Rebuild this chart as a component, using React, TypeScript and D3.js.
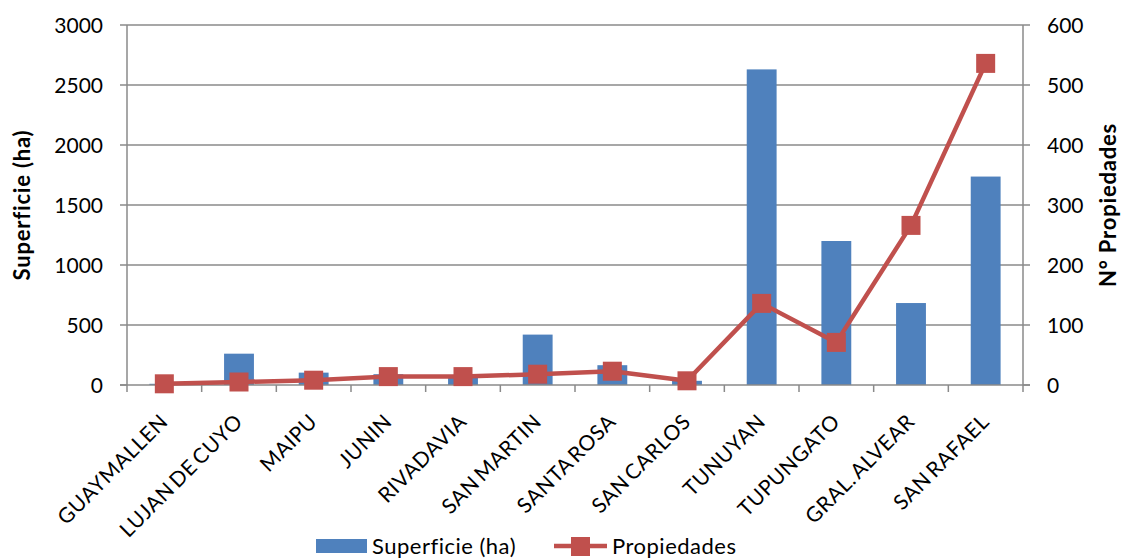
import React from "react";
import * as d3 from "d3";

// Departamentos de Mendoza
const categories: string[] = [
  "GUAYMALLEN",
  "LUJAN DE CUYO",
  "MAIPU",
  "JUNIN",
  "RIVADAVIA",
  "SAN MARTIN",
  "SANTA ROSA",
  "SAN CARLOS",
  "TUNUYAN",
  "TUPUNGATO",
  "GRAL. ALVEAR",
  "SAN RAFAEL",
];

// Superficie (ha) por departamento
const superficie: number[] = [10, 261, 103, 90, 70, 420, 165, 35, 2630, 1200, 683, 1737];

// Número de propiedades por departamento
const propiedades: number[] = [2, 5, 8, 14, 14, 18, 23, 7, 136, 71, 266, 536];

const leftTicks: number[] = [0, 500, 1000, 1500, 2000, 2500, 3000];
const rightTicks: number[] = [0, 100, 200, 300, 400, 500, 600];

const W = 1124;
const H = 560;
const plot = { left: 127, right: 1023, top: 25, bottom: 385 };

const BLUE = "#4F81BD";
const RED = "#C0504D";
const GRID = "#8A8A8A";
const FONT = "Lato, 'Open Sans', sans-serif";

export default function App() {
  const x = d3
    .scaleBand<string>()
    .domain(categories)
    .range([plot.left, plot.right])
    .padding(0);
  const bw = x.bandwidth();
  const barW = bw * 0.4;

  const yL = d3.scaleLinear().domain([0, 3000]).range([plot.bottom, plot.top]);
  const yR = d3.scaleLinear().domain([0, 600]).range([plot.bottom, plot.top]);

  const line = d3
    .line<number>()
    .x((_, i) => (x(categories[i]) as number) + bw / 2)
    .y((d) => yR(d));

  const boundaries = d3.range(categories.length + 1).map((i) => plot.left + i * bw);
  const marker = 19;

  return (
    <svg
      width={W}
      height={H}
      style={{ position: "absolute", left: 0, top: 0, background: "#fff" }}
      fontFamily={FONT}
    >
      {/* horizontal gridlines */}
      {leftTicks.slice(1).map((t) => (
        <line
          key={"g" + t}
          x1={plot.left}
          x2={plot.right}
          y1={yL(t)}
          y2={yL(t)}
          stroke={GRID}
          strokeWidth={1.5}
        />
      ))}

      {/* bars */}
      {superficie.map((v, i) => {
        const cx = (x(categories[i]) as number) + bw / 2;
        return (
          <rect
            key={"b" + i}
            x={cx - barW / 2}
            y={yL(v)}
            width={barW}
            height={plot.bottom - yL(v)}
            fill={BLUE}
          />
        );
      })}

      {/* axes */}
      <line x1={plot.left} x2={plot.left} y1={plot.top} y2={plot.bottom} stroke={GRID} strokeWidth={1.5} />
      <line x1={plot.right} x2={plot.right} y1={plot.top} y2={plot.bottom} stroke={GRID} strokeWidth={1.5} />
      <line x1={plot.left - 7} x2={plot.right + 7} y1={plot.bottom} y2={plot.bottom} stroke={GRID} strokeWidth={1.5} />

      {/* left axis ticks and labels */}
      {leftTicks.map((t) => (
        <g key={"l" + t}>
          <line x1={plot.left - 7} x2={plot.left} y1={yL(t)} y2={yL(t)} stroke={GRID} strokeWidth={1.5} />
          <text x={103} y={yL(t)} dy="0.36em" textAnchor="end" fontSize={21} fill="#000">
            {t}
          </text>
        </g>
      ))}

      {/* right axis ticks and labels */}
      {rightTicks.map((t) => (
        <g key={"r" + t}>
          <line x1={plot.right} x2={plot.right + 7} y1={yR(t)} y2={yR(t)} stroke={GRID} strokeWidth={1.5} />
          <text x={1047} y={yR(t)} dy="0.36em" textAnchor="start" fontSize={21} fill="#000">
            {t}
          </text>
        </g>
      ))}

      {/* category ticks */}
      {boundaries.map((bx, i) => (
        <line key={"c" + i} x1={bx} x2={bx} y1={plot.bottom} y2={plot.bottom + 7} stroke={GRID} strokeWidth={1.5} />
      ))}

      {/* category labels */}
      {categories.map((c) => {
        const cx = (x(c) as number) + bw / 2;
        return (
          <text
            key={"t" + c}
            transform={`translate(${cx + 5},${plot.bottom + 38}) rotate(-45)`}
            textAnchor="end"
            fontSize={21}
            letterSpacing={0.6}
            wordSpacing={-3}
            fill="#000"
          >
            {c}
          </text>
        );
      })}

      {/* line series */}
      <path d={line(propiedades) || ""} fill="none" stroke={RED} strokeWidth={4.5} strokeLinejoin="round" />
      {propiedades.map((v, i) => {
        const cx = (x(categories[i]) as number) + bw / 2;
        return (
          <rect
            key={"m" + i}
            x={cx - marker / 2}
            y={yR(v) - marker / 2}
            width={marker}
            height={marker}
            fill={RED}
          />
        );
      })}

      {/* axis titles */}
      <text
        transform={`translate(30,${(plot.top + plot.bottom) / 2}) rotate(-90)`}
        textAnchor="middle"
        fontSize={22}
        letterSpacing={0.8}
        fontWeight="bold"
        fill="#000"
      >
        Superficie (ha)
      </text>
      <text
        transform={`translate(1116,${(plot.top + plot.bottom) / 2}) rotate(-90)`}
        textAnchor="middle"
        fontSize={22}
        letterSpacing={0.8}
        fontWeight="bold"
        fill="#000"
      >
        N° Propiedades
      </text>

      {/* legend */}
      <rect x={316} y={539} width={51} height={14} fill={BLUE} />
      <text x={372} y={554} fontSize={22} letterSpacing={0.5} fill="#000">
        Superficie (ha)
      </text>
      <line x1={554} x2={607} y1={546} y2={546} stroke={RED} strokeWidth={4.5} />
      <rect x={571} y={537} width={19} height={19} fill={RED} />
      <text x={612} y={554} fontSize={22} letterSpacing={0.5} fill="#000">
        Propiedades
      </text>
    </svg>
  );
}
